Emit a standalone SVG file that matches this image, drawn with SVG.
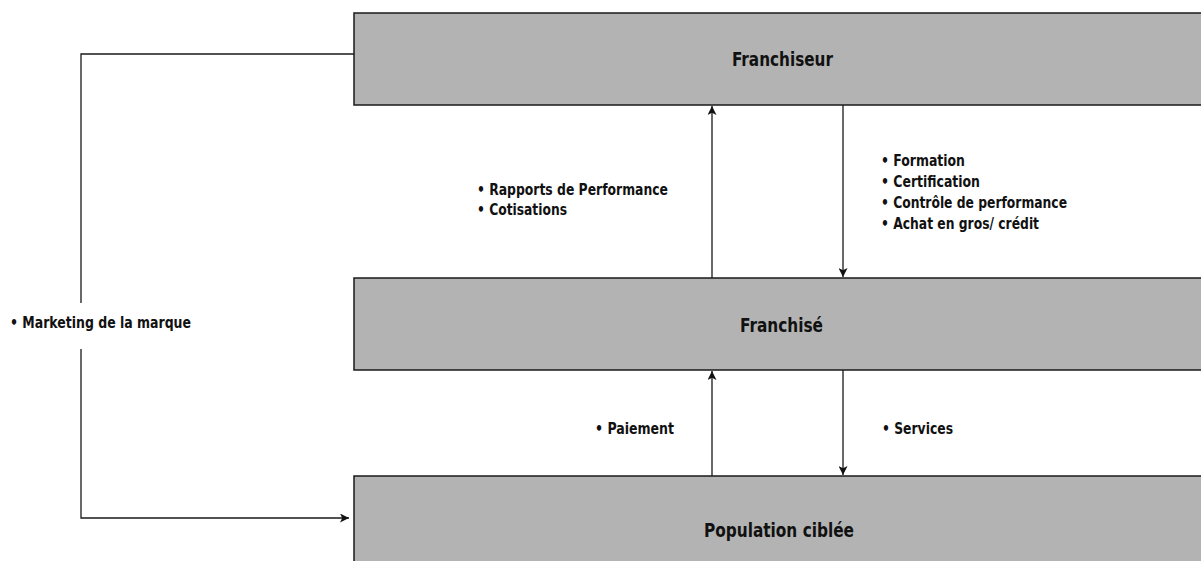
<svg xmlns="http://www.w3.org/2000/svg" width="1201" height="561" viewBox="0 0 1201 561">
<style>
.box{fill:#b3b3b3;stroke:#1a1a1a;stroke-width:1.5}
.t{font-family:"Liberation Sans Narrow","DejaVu Sans Condensed","Liberation Sans",sans-serif;font-weight:bold;fill:#111}
.title{font-size:20px}
.lbl{font-size:16px}
.c{fill:none;stroke:#1a1a1a;stroke-width:1.3}
</style>
<defs>
<marker id="ah" viewBox="0 0 10 10" refX="10" refY="5" markerWidth="10" markerHeight="9" markerUnits="userSpaceOnUse" orient="auto">
<path d="M0,0 L10,5 L0,10 L2.5,5 Z" fill="#111"/>
</marker>
</defs>
<rect width="1201" height="561" fill="#fff"/>
<g id="franchiseur">
<rect class="box" x="354" y="13" width="860" height="92"/>
<text class="t title" x="732" y="66" textLength="101" lengthAdjust="spacingAndGlyphs">Franchiseur</text>
</g>
<g id="franchise">
<rect class="box" x="354" y="278" width="860" height="92"/>
<text class="t title" x="740" y="332" textLength="83" lengthAdjust="spacingAndGlyphs">Franchisé</text>
</g>
<g id="population">
<rect class="box" x="354" y="476" width="860" height="100"/>
<text class="t title" x="704" y="537" textLength="150" lengthAdjust="spacingAndGlyphs">Population ciblée</text>
</g>
<g id="connectors">
<line class="c" x1="712" y1="278" x2="712" y2="106" marker-end="url(#ah)"/>
<line class="c" x1="843" y1="105" x2="843" y2="277" marker-end="url(#ah)"/>
<line class="c" x1="712" y1="476" x2="712" y2="371" marker-end="url(#ah)"/>
<line class="c" x1="843" y1="370" x2="843" y2="475" marker-end="url(#ah)"/>
<polyline class="c" points="354,54 81,54 81,303"/>
<polyline class="c" points="81,349 81,518 349,518" marker-end="url(#ah)"/>
</g>
<g id="labels">
<text class="t lbl" x="477" y="195" textLength="191" lengthAdjust="spacingAndGlyphs">• Rapports de Performance</text>
<text class="t lbl" x="477" y="215" textLength="90" lengthAdjust="spacingAndGlyphs">• Cotisations</text>
<text class="t lbl" x="881" y="166" textLength="84" lengthAdjust="spacingAndGlyphs">• Formation</text>
<text class="t lbl" x="881" y="187" textLength="99" lengthAdjust="spacingAndGlyphs">• Certification</text>
<text class="t lbl" x="881" y="208" textLength="186" lengthAdjust="spacingAndGlyphs">• Contrôle de performance</text>
<text class="t lbl" x="881" y="229" textLength="158" lengthAdjust="spacingAndGlyphs">• Achat en gros/ crédit</text>
<text class="t lbl" x="10" y="328" textLength="181" lengthAdjust="spacingAndGlyphs">• Marketing de la marque</text>
<text class="t lbl" x="595" y="434" textLength="79" lengthAdjust="spacingAndGlyphs">• Paiement</text>
<text class="t lbl" x="882" y="434" textLength="71" lengthAdjust="spacingAndGlyphs">• Services</text>
</g>
</svg>
